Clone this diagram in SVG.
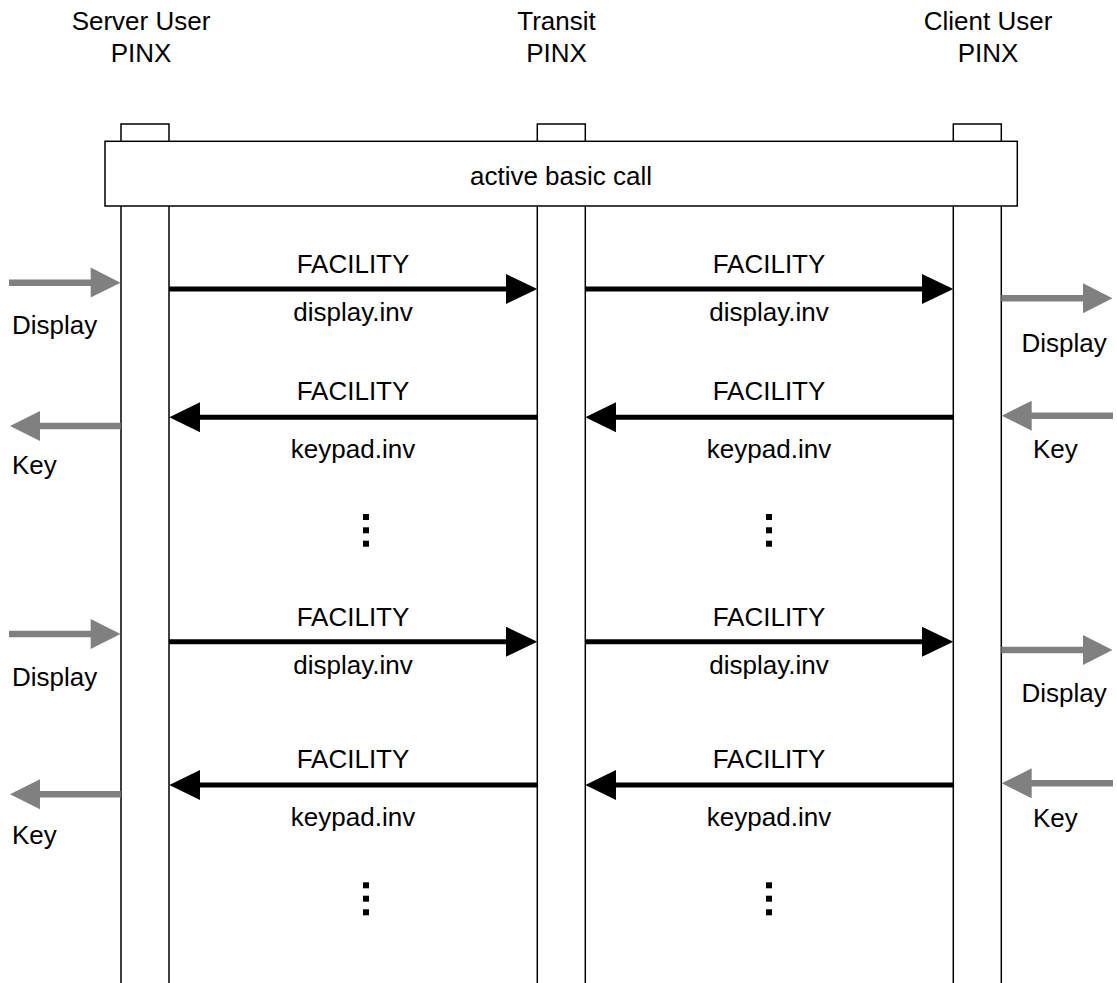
<svg xmlns="http://www.w3.org/2000/svg" width="1117" height="983" viewBox="0 0 1117 983">
<style>
text{font-family:"Liberation Sans",Arial,sans-serif;font-size:26px;fill:#000}
.c{text-anchor:middle}
.life{fill:#fff;stroke:#000;stroke-width:1.5}
.msg{stroke:#000;stroke-width:5;fill:none}
.ext{stroke:#808080;stroke-width:6.5;fill:none}
.hb{fill:#000}
.hg{fill:#808080}
.dot{fill:#000}
</style>
<rect width="1117" height="983" fill="#fff"/>
<g id="lifeline-server">
<rect class="life" x="121" y="124" width="48" height="870"/>
<text class="c" x="141" y="30">Server User</text>
<text class="c" x="141" y="62">PINX</text>
</g>
<g id="lifeline-transit">
<rect class="life" x="537.3" y="124" width="48" height="870"/>
<text class="c" x="556.5" y="30">Transit</text>
<text class="c" x="556.5" y="62">PINX</text>
</g>
<g id="lifeline-client">
<rect class="life" x="953.3" y="124" width="48" height="870"/>
<text class="c" x="988" y="30">Client User</text>
<text class="c" x="988" y="62">PINX</text>
</g>
<g id="active-basic-call">
<rect class="life" x="105" y="141.3" width="912.3" height="64.7"/>
<text class="c" x="561" y="185">active basic call</text>
</g>
<g id="connectors">
<!-- group 1 -->
<line class="ext" x1="9" y1="282.7" x2="92" y2="282.7"/>
<polygon class="hg" points="90.7,267.5 120.5,282.7 90.7,297.5"/>
<line class="msg" x1="169" y1="289" x2="508" y2="289"/>
<polygon class="hb" points="506,274 537.3,289 506,304"/>
<line class="msg" x1="585.3" y1="289" x2="924" y2="289"/>
<polygon class="hb" points="922,274 953.3,289 922,304"/>
<line class="ext" x1="1001.3" y1="298.3" x2="1085" y2="298.3"/>
<polygon class="hg" points="1083,283.3 1112.5,298.3 1083,313.3"/>

<line class="ext" x1="38" y1="426" x2="120.7" y2="426"/>
<polygon class="hg" points="40,411 10,426 40,441"/>
<line class="msg" x1="198" y1="417.3" x2="537.3" y2="417.3"/>
<polygon class="hb" points="200,402.3 169.3,417.3 200,432.3"/>
<line class="msg" x1="614" y1="417.3" x2="953.3" y2="417.3"/>
<polygon class="hb" points="616,402.3 585.3,417.3 616,432.3"/>
<line class="ext" x1="1030" y1="415.7" x2="1113" y2="415.7"/>
<polygon class="hg" points="1031.7,400.7 1001.7,415.7 1031.7,430.7"/>

<!-- group 2 -->
<line class="ext" x1="9" y1="634" x2="92" y2="634"/>
<polygon class="hg" points="90.7,619 120.5,634 90.7,649"/>
<line class="msg" x1="169" y1="641.7" x2="508" y2="641.7"/>
<polygon class="hb" points="506,626.7 537.3,641.7 506,656.7"/>
<line class="msg" x1="585.3" y1="641.7" x2="924" y2="641.7"/>
<polygon class="hb" points="922,626.7 953.3,641.7 922,656.7"/>
<line class="ext" x1="1001.3" y1="650" x2="1085" y2="650"/>
<polygon class="hg" points="1083,635 1112.5,650 1083,665"/>

<line class="ext" x1="38" y1="794.3" x2="120.7" y2="794.3"/>
<polygon class="hg" points="40,779.3 10,794.3 40,809.3"/>
<line class="msg" x1="198" y1="785" x2="537.3" y2="785"/>
<polygon class="hb" points="200,770 169.3,785 200,800"/>
<line class="msg" x1="614" y1="785" x2="953.3" y2="785"/>
<polygon class="hb" points="616,770 585.3,785 616,800"/>
<line class="ext" x1="1030" y1="783.3" x2="1113" y2="783.3"/>
<polygon class="hg" points="1031.7,768.3 1001.7,783.3 1031.7,798.3"/>
</g>
<g id="labels">
<text class="c" x="353" y="273">FACILITY</text>
<text class="c" x="353" y="321">display.inv</text>
<text class="c" x="769" y="273">FACILITY</text>
<text class="c" x="769" y="321">display.inv</text>
<text class="c" x="353" y="400">FACILITY</text>
<text class="c" x="353" y="458">keypad.inv</text>
<text class="c" x="769" y="400">FACILITY</text>
<text class="c" x="769" y="458">keypad.inv</text>

<text class="c" x="353" y="626">FACILITY</text>
<text class="c" x="353" y="674">display.inv</text>
<text class="c" x="769" y="626">FACILITY</text>
<text class="c" x="769" y="674">display.inv</text>
<text class="c" x="353" y="768">FACILITY</text>
<text class="c" x="353" y="826">keypad.inv</text>
<text class="c" x="769" y="768">FACILITY</text>
<text class="c" x="769" y="826">keypad.inv</text>

<text x="12" y="334">Display</text>
<text x="12" y="474">Key</text>
<text x="1021.5" y="352">Display</text>
<text x="1033" y="458">Key</text>
<text x="12" y="685.5">Display</text>
<text x="12" y="843.5">Key</text>
<text x="1021.5" y="702">Display</text>
<text x="1033" y="827">Key</text>
</g>
<g id="ellipses">
<rect class="dot" x="363" y="514" width="6" height="6"/>
<rect class="dot" x="363" y="527.3" width="6" height="6"/>
<rect class="dot" x="363" y="540.7" width="6" height="6"/>
<rect class="dot" x="766" y="514" width="6" height="6"/>
<rect class="dot" x="766" y="527.3" width="6" height="6"/>
<rect class="dot" x="766" y="540.7" width="6" height="6"/>
<rect class="dot" x="363" y="882.3" width="6" height="6"/>
<rect class="dot" x="363" y="895.7" width="6" height="6"/>
<rect class="dot" x="363" y="909.3" width="6" height="6"/>
<rect class="dot" x="766" y="882.3" width="6" height="6"/>
<rect class="dot" x="766" y="895.7" width="6" height="6"/>
<rect class="dot" x="766" y="909.3" width="6" height="6"/>
</g>
</svg>
